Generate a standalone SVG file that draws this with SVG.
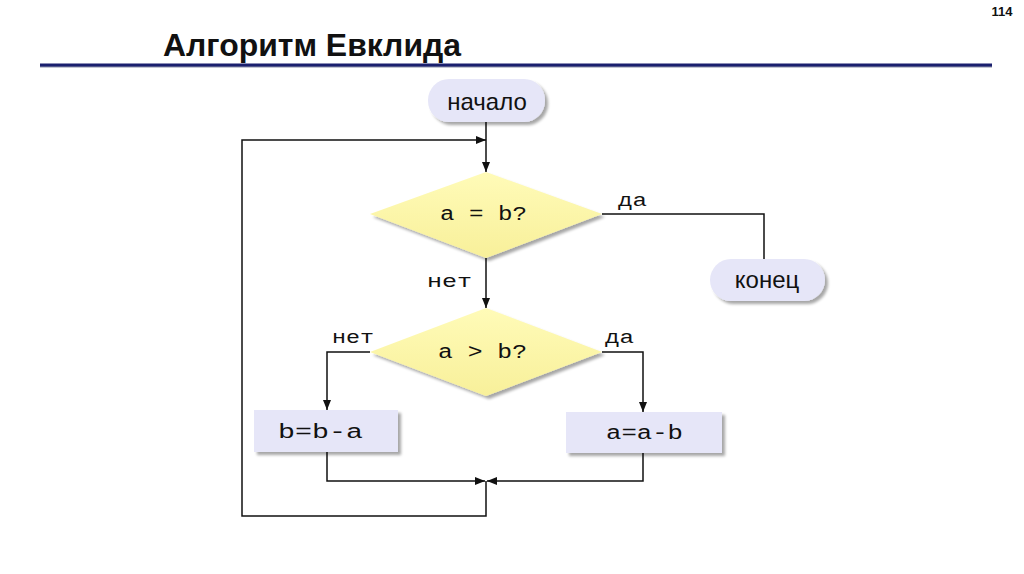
<svg xmlns="http://www.w3.org/2000/svg" width="1024" height="574" viewBox="0 0 1024 574">
  <defs>
    <marker id="arr" viewBox="0 0 10 8" refX="10" refY="4" markerWidth="10" markerHeight="8" markerUnits="userSpaceOnUse" orient="auto">
      <path d="M0,0 L10,4 L0,8 Z" fill="#111"/>
    </marker>
    <filter id="sh" x="-10%" y="-10%" width="130%" height="140%">
      <feGaussianBlur in="SourceAlpha" stdDeviation="1.5"/>
      <feOffset dx="3" dy="3" result="b"/>
      <feComponentTransfer><feFuncA type="linear" slope="0.35"/></feComponentTransfer>
      <feMerge><feMergeNode/><feMergeNode in="SourceGraphic"/></feMerge>
    </filter>
    <linearGradient id="yel" x1="0" y1="0" x2="0" y2="1">
      <stop offset="0" stop-color="#fffbb8"/>
      <stop offset="1" stop-color="#f8f09a"/>
    </linearGradient>
  </defs>
  <style>
    .term { fill: #e6e6f8; filter: url(#sh); }
    .proc { fill: #e6e6f8; filter: url(#sh); }
    .dec { fill: url(#yel); filter: url(#sh); }
    .sans { font-family: "Liberation Sans", Arial, sans-serif; font-size: 24px; fill: #111; text-anchor: middle; }
    .mono { font-family: "Liberation Mono", "Courier New", monospace; font-size: 20px; fill: #111; }
    .lbl { font-family: "Liberation Mono", "Courier New", monospace; font-size: 19px; fill: #111; }
    .conn { fill: none; stroke: #111; stroke-width: 1.5; }
  </style>
  <rect width="1024" height="574" fill="#ffffff"/>
  <text x="1002" y="16" font-family="'Liberation Sans', Arial, sans-serif" font-size="13" font-weight="bold" text-anchor="middle" fill="#111">114</text>
  <text x="163" y="56" font-family="'Liberation Sans', Arial, sans-serif" font-size="31" font-weight="bold" fill="#111" textLength="298" lengthAdjust="spacingAndGlyphs">Алгоритм Евклида</text>
  <line x1="40" y1="66.5" x2="992" y2="66.5" stroke="#8a8fa8" stroke-width="2"/>
  <line x1="40" y1="65" x2="992" y2="65" stroke="#1a1f6e" stroke-width="3"/>

  <g id="connectors">
    <path class="conn" d="M486,122 L486,172" marker-end="url(#arr)"/>
    <path class="conn" d="M486,481 L486,516 L242,516 L242,140 L486,140" marker-end="url(#arr)"/>
    <path class="conn" d="M602,214 L764,214 L764,259"/>
    <path class="conn" d="M486,258 L486,308" marker-end="url(#arr)"/>
    <path class="conn" d="M370,352 L327,352 L327,410" marker-end="url(#arr)"/>
    <path class="conn" d="M602,352 L643,352 L643,412" marker-end="url(#arr)"/>
    <path class="conn" d="M327,452 L327,481 L485,481" marker-end="url(#arr)"/>
    <path class="conn" d="M643,453 L643,481 L487,481" marker-end="url(#arr)"/>
    <text class="lbl" x="618" y="206" textLength="29" lengthAdjust="spacingAndGlyphs">да</text>
    <text class="lbl" x="427" y="287" textLength="45" lengthAdjust="spacingAndGlyphs">нет</text>
    <text class="lbl" x="332" y="343" textLength="42" lengthAdjust="spacingAndGlyphs">нет</text>
    <text class="lbl" x="605" y="343" textLength="29" lengthAdjust="spacingAndGlyphs">да</text>
  </g>

  <g id="start">
    <rect class="term" x="428" y="79" width="117" height="43" rx="21" ry="21"/>
    <text class="sans" x="487" y="110">начало</text>
  </g>
  <g id="cond1">
    <polygon class="dec" points="486,172 602,214 486,258 370,214"/>
    <text class="mono" x="440" y="220" textLength="87" lengthAdjust="spacingAndGlyphs">a = b?</text>
  </g>
  <g id="end">
    <rect class="term" x="710" y="259" width="115" height="42" rx="21" ry="21"/>
    <text class="sans" x="767" y="288">конец</text>
  </g>
  <g id="cond2">
    <polygon class="dec" points="486,308 602,352 486,396 370,352"/>
    <text class="mono" x="438" y="358" textLength="89" lengthAdjust="spacingAndGlyphs">a &gt; b?</text>
  </g>
  <g id="left">
    <rect class="proc" x="254" y="410" width="144" height="42"/>
    <text class="mono" x="278" y="438" textLength="85" lengthAdjust="spacingAndGlyphs">b=b-a</text>
  </g>
  <g id="right">
    <rect class="proc" x="566" y="412" width="156" height="41"/>
    <text class="mono" x="606" y="439" textLength="77" lengthAdjust="spacingAndGlyphs">a=a-b</text>
  </g>
</svg>
